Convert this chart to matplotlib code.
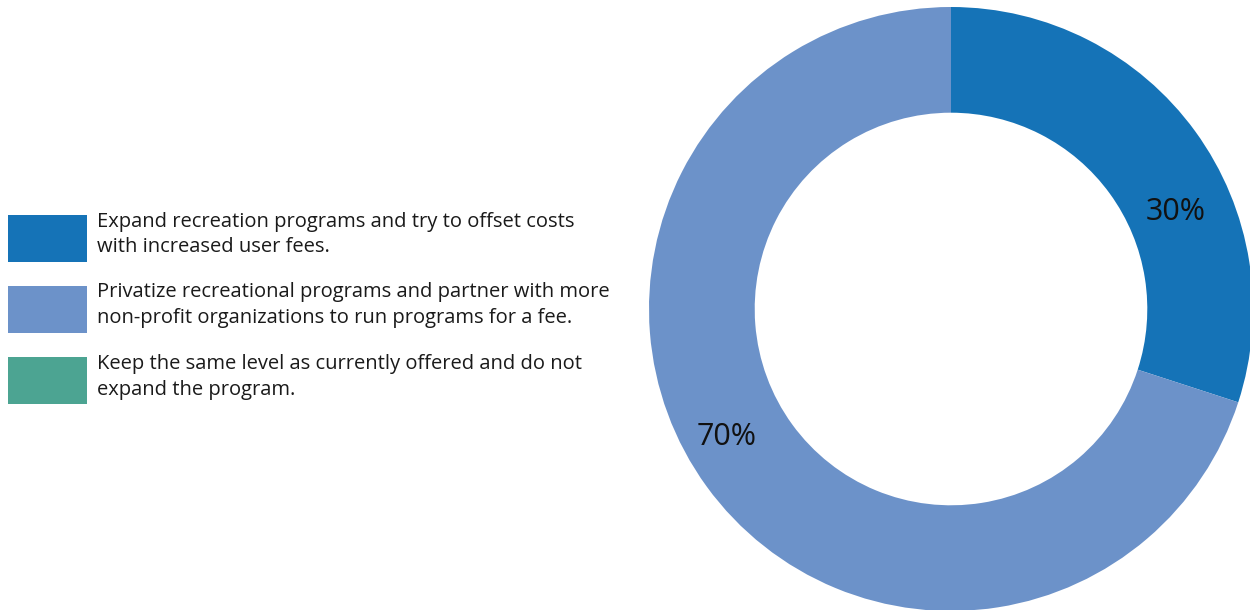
import matplotlib
matplotlib.use('Agg')
import matplotlib.pyplot as plt
import numpy as np
from matplotlib.patches import Rectangle

# data
categories = [
    'Expand recreation programs and try to offset costs\nwith increased user fees.',
    'Privatize recreational programs and partner with more\nnon-profit organizations to run programs for a fee.',
    'Keep the same level as currently offered and do not\nexpand the program.',
]
shares = [30, 70, 0]
colors = ['#1573B7', '#6C92C9', '#4CA492']

W, H = 1250, 610
fig = plt.figure(figsize=(W / 100, H / 100), dpi=100)

# donut: centre (951, 309) px from top-left, outer radius ~302 px
cx, cy, R = 951, H - 309, 302
ax = fig.add_axes([(cx - R) / W, (cy - R) / H, 2 * R / W, 2 * R / H])
drawn = [(s, c) for s, c in zip(shares, colors) if s > 0]
wedges, _ = ax.pie([s for s, _ in drawn], colors=[c for _, c in drawn],
                   startangle=90, counterclock=False, radius=1.0,
                   wedgeprops=dict(width=0.35, linewidth=0))
for w in wedges:
    w.set_clip_on(False)
ax.set_xlim(-1, 1)
ax.set_ylim(-1, 1)
ax.set_aspect('equal')
ax.axis('off')

# percentage labels (placed inside the ring, offset from slice centre as in the original)
label_pos = [(0.81, 23.4), (0.855, 209.7)]
for (s, _), (r, ang) in zip(drawn, label_pos):
    a = np.deg2rad(ang)
    ax.text(r * np.cos(a), r * np.sin(a), f'{s}%', ha='center', va='center',
            fontsize=22, color='#111111', family='Open Sans')

# legend drawn by hand
box_w, box_h = 79, 47
tops = [215, 286, 357]
for label, color, top in zip(categories, colors, tops):
    fig.patches.append(Rectangle((8 / W, (H - top - box_h) / H), box_w / W, box_h / H,
                                 transform=fig.transFigure, facecolor=color,
                                 edgecolor='none'))
    fig.text(97 / W, (H - top - box_h / 2 + 4) / H, label, ha='left', va='center',
             fontsize=14.5, family='Open Sans', color='#1a1a1a', linespacing=1.4)

fig.savefig('out.png', dpi=100, facecolor='white')
